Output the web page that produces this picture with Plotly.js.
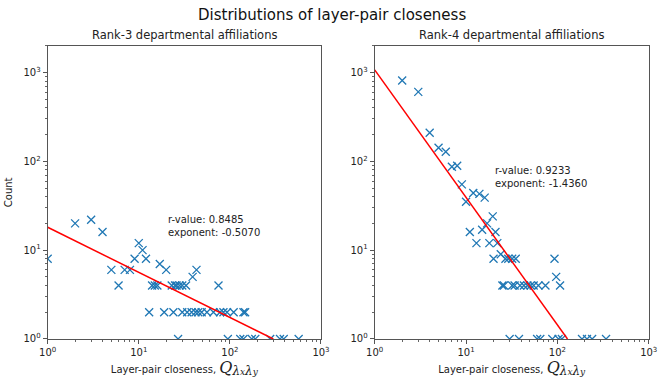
<!DOCTYPE html>
<html>
<head>
<meta charset="utf-8">
<script src="https://cdn.plot.ly/plotly-3.0.1.min.js"></script>
<style>
  html, body { margin: 0; padding: 0; background: #fff; }
  #chart { width: 664px; height: 392px; }
</style>
</head>
<body>
<div id="chart"></div>
<script>
// rank-3 closeness distribution
var rank3X = [1, 2, 3, 4, 5, 6, 7, 8, 9, 10, 11, 12, 13, 14, 15, 16, 17, 19, 20,
  23, 25, 26, 28, 30, 33, 24, 30, 34, 38, 42, 45, 49, 56, 66, 78, 85, 93, 110, 141, 147,
  39, 43, 75,
  27, 95, 130, 141, 174, 190, 277, 355, 390, 569];
var rank3Y = [8, 20, 22, 16, 6, 4, 6, 6, 8, 12, 10, 8, 2, 4, 4, 4, 7, 2, 6,
  4, 4, 4, 4, 4, 4, 2, 2, 2, 2, 2, 2, 2, 2, 2, 2, 2, 2, 2, 2, 2,
  5, 6, 4,
  1, 1, 1, 1, 1, 1, 1, 1, 1, 1];

// rank-4 closeness distribution
var rank4X = [2, 3, 4, 5, 6, 7, 8, 9, 10, 12, 14, 16, 11, 13, 15, 17, 19.6, 18, 21, 22,
  20, 24, 27, 29, 32, 35,
  25, 26, 32, 34, 39, 43, 47, 51, 55, 62, 74,
  93, 97, 107,
  30, 38, 60, 65, 88, 103, 112, 186, 211, 240, 341];
var rank4Y = [813, 604, 210, 142, 128, 87, 89, 55, 35, 44, 43, 39, 16, 12, 17, 20, 24, 12, 16, 12,
  8, 9, 8, 8, 8, 8,
  4, 4, 4, 4, 4, 4, 4, 4, 4, 4, 4,
  8, 5, 4,
  1, 1, 1, 1, 1, 1, 1, 1, 1, 1, 1];

// fitted power laws (end points)
var fit3X = [1, 300];
var fit3Y = [18.1, 1];
var fit4X = [1, 129];
var fit4Y = [1070, 1];

var fitText3 = 'r-value: 0.8485<br>exponent: -0.5070';
var fitText4 = 'r-value: 0.9233<br>exponent: -1.4360';
var panelTitles = ['Rank-3 departmental affiliations', 'Rank-4 departmental affiliations'];
var majorTicks = [1, 10, 100, 1000];
var majorLabels = ['10<sup>0</sup>', '10<sup>1</sup>', '10<sup>2</sup>', '10<sup>3</sup>'];
var minorTicks = [2, 3, 4, 5, 6, 7, 8, 9, 20, 30, 40, 50, 60, 70, 80, 90,
  200, 300, 400, 500, 600, 700, 800, 900, 2000];

var font = 'DejaVu Sans, sans-serif';
var blue = '#1f77b4';

function points(x, y, xa, ya) {
  return {
    x: x, y: y, xaxis: xa, yaxis: ya,
    type: 'scatter', mode: 'markers', showlegend: false,
    marker: { symbol: 'x-thin-open', size: 8, color: blue, line: { color: blue, width: 1.3 } }
  };
}
function fitLine(x, y, xa, ya) {
  return {
    x: x, y: y, xaxis: xa, yaxis: ya,
    type: 'scatter', mode: 'lines', showlegend: false,
    line: { color: 'red', width: 1.5 }
  };
}

var xTitle = 'Layer-pair closeness, <span style="font-family:DejaVu Serif;font-size:16px"><i>Q</i></span>' +
  '<sub><span style="font-family:DejaVu Serif;font-size:12px"><i>λ</i></span><span style="font-family:DejaVu Serif;font-size:9px"><i>x</i></span>' +
  '<span style="font-family:DejaVu Serif;font-size:12px"><i>λ</i></span><span style="font-family:DejaVu Serif;font-size:9px"><i>y</i></span></sub>';

function logAxis(domain, range, anchor, title) {
  var ax = {
    type: 'log', domain: domain, range: range, anchor: anchor,
    tickmode: 'array', tickvals: majorTicks, ticktext: majorLabels,
    showgrid: false, zeroline: false,
    showline: true, mirror: true, linecolor: '#555', linewidth: 1,
    ticks: 'outside', ticklen: 4, tickcolor: '#555',
    tickfont: { family: font, size: 10, color: '#222' }
  };
  if (title) {
    ax.title = { text: title, font: { family: font, size: 10, color: '#222' }, standoff: 8 };
  }
  return ax;
}
// overlay axis carrying only the minor ticks
function minorAxis(overlay, range, anchor, side) {
  return {
    type: 'log', overlaying: overlay, range: range, anchor: anchor, side: side,
    tickmode: 'array', tickvals: minorTicks, showticklabels: false,
    ticks: 'outside', ticklen: 2, tickcolor: '#666',
    showgrid: false, zeroline: false, showline: false
  };
}

var data = [
  points(rank3X, rank3Y, 'x', 'y'),
  fitLine(fit3X, fit3Y, 'x', 'y'),
  points(rank4X, rank4Y, 'x2', 'y2'),
  fitLine(fit4X, fit4Y, 'x2', 'y2')
];

var yTop = Math.log10(2000);
var layout = {
  width: 664, height: 392,
  margin: { l: 0, r: 0, t: 0, b: 0 },
  paper_bgcolor: '#fff', plot_bgcolor: '#fff',
  xaxis: logAxis([0.0718, 0.4834], [0, 3], 'y', xTitle),
  yaxis: logAxis([0.1352, 0.8834], [0, yTop], 'x', 'Count'),
  xaxis2: logAxis([0.5643, 0.9770], [0, 3], 'y2', xTitle),
  yaxis2: logAxis([0.1352, 0.8834], [0, yTop], 'x2', null),
  xaxis3: minorAxis('x', [0, 3], 'y', 'bottom'),
  yaxis3: minorAxis('y', [0, yTop], 'x', 'left'),
  xaxis4: minorAxis('x2', [0, 3], 'y2', 'bottom'),
  yaxis4: minorAxis('y2', [0, yTop], 'x2', 'left'),
  annotations: [
    { text: 'Distributions of layer-pair closeness', xref: 'paper', yref: 'paper',
      x: 0.5, y: 1 - 15 / 392, xanchor: 'center', yanchor: 'middle', showarrow: false,
      font: { family: font, size: 15, color: '#111' } },
    { text: panelTitles[0], xref: 'paper', yref: 'paper',
      x: (0.0718 + 0.4834) / 2, y: 1 - 35 / 392, xanchor: 'center', yanchor: 'middle', showarrow: false,
      font: { family: font, size: 11.5, color: '#222' } },
    { text: panelTitles[1], xref: 'paper', yref: 'paper',
      x: (0.5643 + 0.9770) / 2, y: 1 - 35 / 392, xanchor: 'center', yanchor: 'middle', showarrow: false,
      font: { family: font, size: 11.5, color: '#222' } },
    { text: fitText3, xref: 'x', yref: 'y', x: Math.log10(20), y: Math.log10(27),
      xanchor: 'left', yanchor: 'top', align: 'left', showarrow: false,
      font: { family: font, size: 10, color: '#222' } },
    { text: fitText4, xref: 'x2', yref: 'y2', x: Math.log10(19.8), y: Math.log10(95),
      xanchor: 'left', yanchor: 'top', align: 'left', showarrow: false,
      font: { family: font, size: 10, color: '#222' } }
  ]
};

// the minor axes need a (hidden) trace each to be drawn
data.push({ x: [1], y: [1], xaxis: 'x3', yaxis: 'y3', type: 'scatter', mode: 'markers',
  marker: { opacity: 0 }, showlegend: false, hoverinfo: 'skip' });
data.push({ x: [1], y: [1], xaxis: 'x4', yaxis: 'y4', type: 'scatter', mode: 'markers',
  marker: { opacity: 0 }, showlegend: false, hoverinfo: 'skip' });

Plotly.newPlot('chart', data, layout, { displayModeBar: false, staticPlot: true });
</script>
</body>
</html>
